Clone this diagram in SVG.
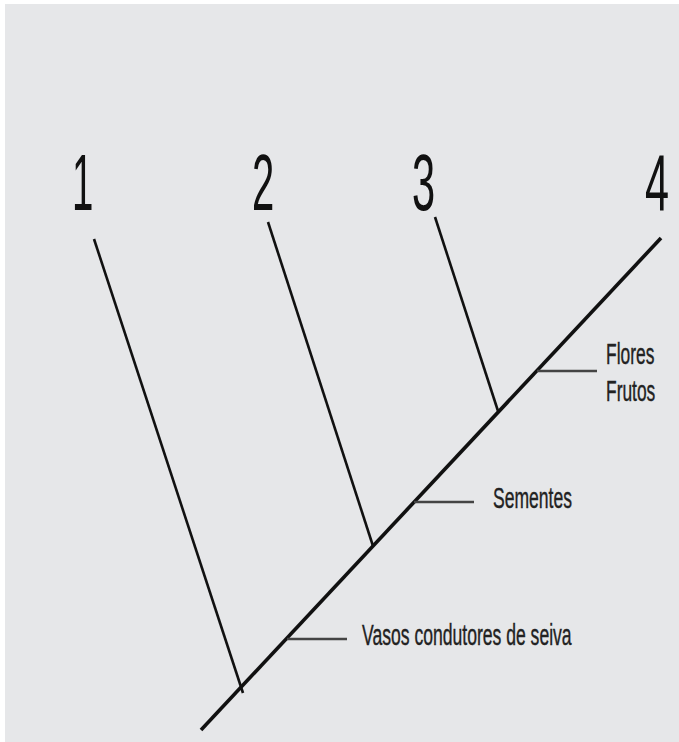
<svg xmlns="http://www.w3.org/2000/svg" width="679" height="742" viewBox="0 0 679 742">
  <style>
    .branch { stroke: #111; stroke-width: 2.6; stroke-linecap: butt; fill: none; }
    .trunk { stroke: #111; stroke-width: 3.6; stroke-linecap: butt; fill: none; }
    .tick { stroke: #444; stroke-width: 2.6; fill: none; }
    .num { font-family: "Liberation Sans", Arial, sans-serif; font-size: 80px; fill: #111; }
    .lbl { font-family: "Liberation Sans", Arial, sans-serif; font-size: 29px; fill: #222; stroke: #222; stroke-width: 0.4; }
  </style>
  <rect x="0" y="0" width="679" height="742" fill="#ffffff"/>
  <rect x="5" y="4" width="674" height="738" fill="#e6e7e9"/>

  <!-- tree lines -->
  <g id="connectors">
    <line class="trunk" x1="201" y1="730" x2="661" y2="238"/>
    <line class="branch" x1="94" y1="239" x2="243" y2="693"/>
    <line class="branch" x1="268" y1="222" x2="373" y2="546"/>
    <line class="branch" x1="435" y1="217" x2="498" y2="411"/>
    <line class="tick" x1="537" y1="371" x2="597" y2="371"/>
    <line class="tick" x1="414" y1="502" x2="474" y2="502"/>
    <line class="tick" x1="287" y1="639" x2="347" y2="639"/>
  </g>

  <!-- terminal taxa (condensed digits) -->
  <g id="taxon-1"><text class="num" transform="translate(72,210) scale(0.48,1)">1</text></g>
  <g id="taxon-2"><text class="num" transform="translate(252,210) scale(0.5,1)">2</text></g>
  <g id="taxon-3"><text class="num" transform="translate(412,210) scale(0.52,1)">3</text></g>
  <g id="taxon-4"><text class="num" transform="translate(645,210) scale(0.54,1)">4</text></g>

  <!-- character labels (condensed) -->
  <g id="label-flores-frutos">
    <text class="lbl" transform="translate(606,364) scale(0.6,1)">Flores</text>
    <text class="lbl" transform="translate(606,401) scale(0.6,1)">Frutos</text>
  </g>
  <g id="label-sementes">
    <text class="lbl" transform="translate(493,508) scale(0.605,1)">Sementes</text>
  </g>
  <g id="label-vasos">
    <text class="lbl" transform="translate(362,645) scale(0.606,1)">Vasos condutores de seiva</text>
  </g>
</svg>
